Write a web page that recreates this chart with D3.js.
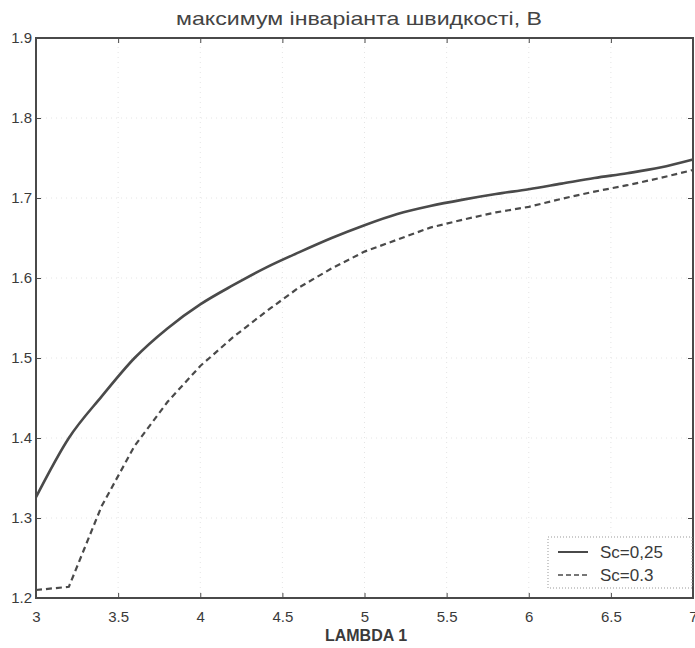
<!DOCTYPE html>
<html>
<head>
<meta charset="utf-8">
<script src="https://cdn.jsdelivr.net/npm/d3@7"></script>
<style>
body{margin:0;background:#fff;}
svg{display:block;font-family:"Liberation Sans",Arial,sans-serif;}
</style>
</head>
<body>
<svg id="chart" width="695" height="648"></svg>
<script>
/* data */
const lambda=[3,3.2,3.4,3.6,3.8,4,4.2,4.4,4.6,4.8,5,5.2,5.4,5.6,5.8,6,6.2,6.4,6.6,6.8,7];
const sc025=[1.326,1.400,1.452,1.500,1.537,1.567,1.591,1.613,1.632,1.650,1.666,1.680,1.690,1.698,1.705,1.711,1.718,1.725,1.731,1.738,1.748];
const sc03=[1.210,1.214,1.315,1.390,1.445,1.490,1.526,1.558,1.588,1.612,1.633,1.648,1.663,1.673,1.682,1.689,1.699,1.708,1.716,1.725,1.735];
const xTicks=[3,3.5,4,4.5,5,5.5,6,6.5,7];
const yTicks=[1.2,1.3,1.4,1.5,1.6,1.7,1.8,1.9];
const series=[
  {name:"Sc=0,25",values:sc025,dash:null,w:2.6,curve:d3.curveMonotoneX},
  {name:"Sc=0.3",values:sc03,dash:"6,4",w:2.2,curve:d3.curveLinear}
];

const svg=d3.select("#chart");
const m={l:36,r:2,t:38,b:50};
const W=695,H=648;
const x=d3.scaleLinear().domain([3,7]).range([m.l,W-m.r]);
const y=d3.scaleLinear().domain([1.2,1.9]).range([H-m.b,m.t]);
const ink="#4a4a4a";

/* grid */
const grid=svg.append("g").attr("stroke","#e4e4e4").attr("stroke-dasharray","1,4");
grid.selectAll(".gx").data(xTicks.slice(1,-1)).enter().append("line")
  .attr("x1",d=>x(d)).attr("x2",d=>x(d)).attr("y1",y(1.2)).attr("y2",y(1.9));
grid.selectAll(".gy").data(yTicks.slice(1,-1)).enter().append("line")
  .attr("y1",d=>y(d)).attr("y2",d=>y(d)).attr("x1",x(3)).attr("x2",x(7));

/* axes: ticks inward on all sides */
const fmt=d=>String(d);
const ax=(g)=>{g.select(".domain").remove();g.selectAll("line").attr("stroke",ink);g.selectAll("text").attr("fill","#3a3a3a").style("font-size","15px");};
svg.append("g").attr("transform",`translate(0,${y(1.2)})`)
  .call(d3.axisBottom(x).tickValues(xTicks).tickFormat(fmt).tickSizeInner(-5).tickPadding(13)).call(ax);
svg.append("g").attr("transform",`translate(0,${y(1.9)})`)
  .call(d3.axisTop(x).tickValues(xTicks).tickFormat("").tickSizeInner(-5)).call(ax);
svg.append("g").attr("transform",`translate(${x(3)},0)`)
  .call(d3.axisLeft(y).tickValues(yTicks).tickFormat(d3.format(".1f")).tickSizeInner(-5).tickPadding(4)).call(ax);
svg.append("g").attr("transform",`translate(${x(7)},0)`)
  .call(d3.axisRight(y).tickValues(yTicks).tickFormat("").tickSizeInner(-5)).call(ax);

/* frame */
svg.append("rect").attr("x",x(3)).attr("y",y(1.9)).attr("width",x(7)-x(3)).attr("height",y(1.2)-y(1.9))
  .attr("fill","none").attr("stroke",ink).attr("stroke-width",2);

/* lines */
series.forEach(s=>{
  const line=d3.line().x((d,i)=>x(lambda[i])).y(d=>y(d)).curve(s.curve);
  svg.append("path").datum(s.values).attr("d",line).attr("fill","none")
    .attr("stroke",ink).attr("stroke-width",s.w).attr("stroke-dasharray",s.dash);
});

/* title + label */
svg.append("text").attr("x",359).attr("y",25).attr("text-anchor","middle")
  .attr("fill","#444").style("font-size","19px")
  .attr("textLength",366).attr("lengthAdjust","spacingAndGlyphs")
  .text("максимум інваріанта швидкості, В");
svg.append("text").attr("x",366).attr("y",641).attr("text-anchor","middle")
  .attr("fill","#3a3a3a").style("font-size","16px").style("font-weight","bold").text("LAMBDA 1");

/* legend */
const lg=svg.append("g").attr("transform","translate(548,537)");
lg.append("rect").attr("width",144).attr("height",51).attr("fill","#fff")
  .attr("stroke","#999").attr("stroke-dasharray","1,2");
series.forEach((s,i)=>{
  const ly=15+i*23;
  lg.append("line").attr("x1",10).attr("x2",40).attr("y1",ly).attr("y2",ly)
    .attr("stroke",ink).attr("stroke-width",s.w-0.6).attr("stroke-dasharray",s.dash?"5,3":null);
  lg.append("text").attr("x",52).attr("y",ly+6).attr("fill","#3a3a3a").style("font-size","17px").text(s.name);
});
</script>
</body>
</html>
